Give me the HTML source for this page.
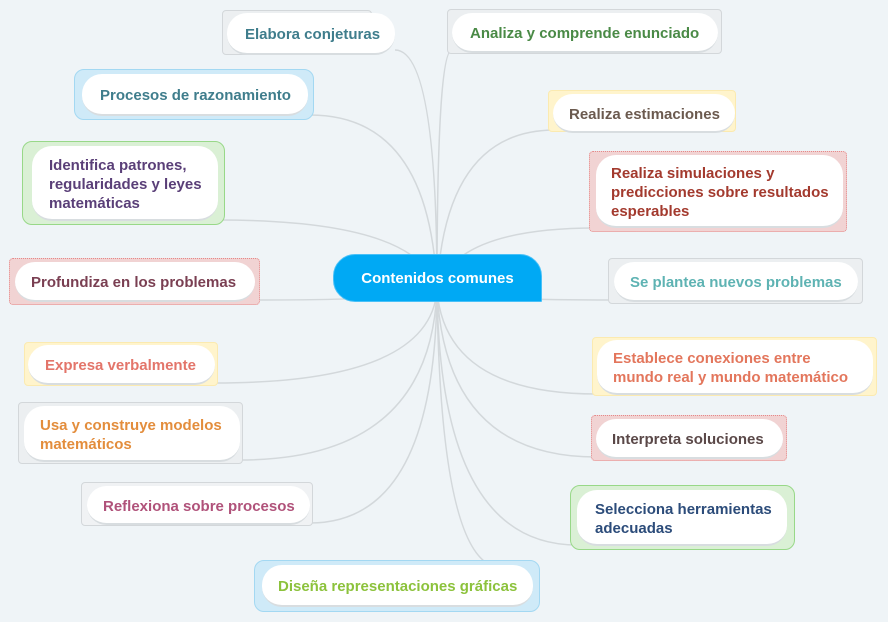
<!DOCTYPE html>
<html><head><meta charset="utf-8"><style>
body{margin:0;width:888px;height:622px;background:#eff4f7;position:relative;overflow:hidden;font-family:"Liberation Sans",sans-serif}
.o{position:absolute;box-sizing:border-box;border-radius:4px}
.i{position:absolute;box-sizing:border-box;background:#fff;border-radius:20px;display:flex;align-items:center;font-weight:bold;font-size:15px;line-height:19px;padding-left:18px;padding-top:3px;border-bottom:2px solid #d8dde0}
.g{background:#eceff1;border:1.5px solid #d3d7da}
.b{background:#cfeaf8;border:1.5px solid #a3d8f2;border-radius:10px}
.y{background:#fff4cc;border:1px solid #fbeab0}
.gr{background:#daf0d5;border:1.5px solid #98d888;border-radius:10px}
.p{background:#f1d3d3;border:1.5px dotted #e58a8a}
svg{position:absolute;left:0;top:0}
</style></head><body>
<svg width="888" height="622"><g fill="none" stroke="#d3d8db" stroke-width="1.5">
<path d="M437 290 Q437 50 395 50"/>
<path d="M437 290 Q437 50 452 50"/>
<path d="M437 290 Q430 115 310 115"/>
<path d="M437 290 Q445 130 555 130"/>
<path d="M437 290 Q420 220 218 220"/>
<path d="M437 290 Q455 228 596 228"/>
<path d="M437 290 Q420 300 255 300"/>
<path d="M437 290 Q455 300 614 300"/>
<path d="M437 290 Q430 383 215 383"/>
<path d="M437 290 Q445 394 597 394"/>
<path d="M437 290 Q430 460 240 460"/>
<path d="M437 290 Q445 457 596 457"/>
<path d="M437 290 Q435 523 310 523"/>
<path d="M437 290 Q440 545 577 545"/>
<path d="M437 290 Q440 540 490 565"/>
</g></svg>

<div class="o g" style="left:222px;top:10px;width:150px;height:45px"></div>
<div class="i" style="left:227px;top:13px;width:168px;height:42px;color:#3f7d8c">Elabora conjeturas</div>

<div class="o g" style="left:447px;top:9px;width:275px;height:45px"></div>
<div class="i" style="left:452px;top:13px;width:266px;height:40px;color:#4a8a46">Analiza y comprende enunciado</div>

<div class="o b" style="left:74px;top:69px;width:240px;height:51px"></div>
<div class="i" style="left:82px;top:74px;width:226px;height:42px;color:#3f7d8c">Procesos de razonamiento</div>

<div class="o y" style="left:548px;top:90px;width:188px;height:42px"></div>
<div class="i" style="left:553px;top:94px;width:182px;height:39px;color:#6b5a4f;padding-left:16px">Realiza estimaciones</div>

<div class="o gr" style="left:22px;top:141px;width:203px;height:84px"></div>
<div class="i" style="left:32px;top:146px;width:186px;height:75px;color:#5a3f78;padding-left:17px">Identifica patrones,<br>regularidades y leyes<br>matemáticas</div>

<div class="o p" style="left:589px;top:151px;width:258px;height:81px"></div>
<div class="i" style="left:596px;top:155px;width:247px;height:73px;color:#a33a2e;padding-left:15px">Realiza simulaciones y<br>predicciones sobre resultados<br>esperables</div>

<div class="o" style="left:333px;top:254px;width:209px;height:48px;background:#00a9f4;border:1px solid #49c0f7;border-radius:22px 22px 1px 22px;color:#fff;font-weight:bold;font-size:15px;display:flex;align-items:center;justify-content:center">Contenidos comunes</div>

<div class="o p" style="left:9px;top:258px;width:251px;height:47px"></div>
<div class="i" style="left:15px;top:262px;width:240px;height:40px;color:#7a3f52;padding-left:16px">Profundiza en los problemas</div>

<div class="o g" style="left:608px;top:258px;width:255px;height:46px"></div>
<div class="i" style="left:614px;top:262px;width:244px;height:40px;color:#5eb3b3;padding-left:16px">Se plantea nuevos problemas</div>

<div class="o y" style="left:24px;top:342px;width:194px;height:44px"></div>
<div class="i" style="left:28px;top:345px;width:187px;height:40px;color:#e3756a;padding-left:17px">Expresa verbalmente</div>

<div class="o y" style="left:592px;top:337px;width:285px;height:59px"></div>
<div class="i" style="left:597px;top:340px;width:276px;height:55px;color:#e3765c;padding-left:16px">Establece conexiones entre<br>mundo real y mundo matemático</div>

<div class="o g" style="left:18px;top:402px;width:225px;height:62px"></div>
<div class="i" style="left:24px;top:406px;width:216px;height:56px;color:#e38d3c;padding-left:16px">Usa y construye modelos<br>matemáticos</div>

<div class="o p" style="left:591px;top:415px;width:196px;height:46px"></div>
<div class="i" style="left:596px;top:419px;width:187px;height:40px;color:#5a4848;padding-left:16px">Interpreta soluciones</div>

<div class="o g" style="left:81px;top:482px;width:232px;height:44px;background:#f0f2f4"></div>
<div class="i" style="left:87px;top:486px;width:223px;height:39px;color:#b0527a;padding-left:16px">Reflexiona sobre procesos</div>

<div class="o gr" style="left:570px;top:485px;width:225px;height:65px"></div>
<div class="i" style="left:577px;top:490px;width:210px;height:56px;color:#2c4c7a">Selecciona herramientas<br>adecuadas</div>

<div class="o b" style="left:254px;top:560px;width:286px;height:52px"></div>
<div class="i" style="left:262px;top:565px;width:271px;height:42px;color:#8cc23c;padding-left:16px">Diseña representaciones gráficas</div>
</body></html>
